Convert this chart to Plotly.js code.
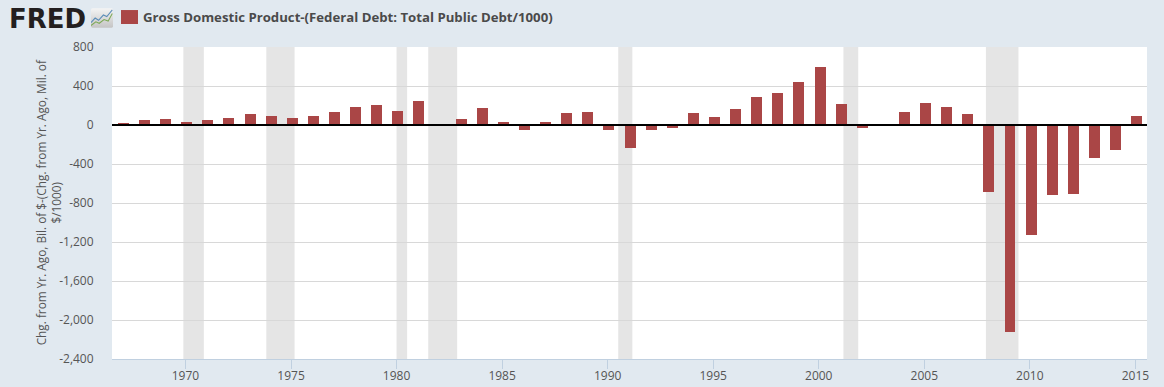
<!DOCTYPE html>
<html>
<head>
<meta charset="utf-8">
<script src="https://cdn.plot.ly/plotly-3.0.1.min.js"></script>
<style>html,body{margin:0;padding:0;background:#e1e9f0;overflow:hidden}</style>
</head>
<body>
<div id="chart" style="width:1164px;height:387px"></div>
<script>
const seriesName = "Gross Domestic Product-(Federal Debt: Total Public Debt/1000)";
const yTitle = "Chg. from Yr. Ago, Bil. of $-(Chg. from Yr. Ago, Mil. of<br>$/1000)";
const years = [1967,1968,1969,1970,1971,1972,1973,1974,1975,1976,1977,1978,1979,1980,1981,1982,1983,1984,1985,1986,1987,1988,1989,1990,1991,1992,1993,1994,1995,1996,1997,1998,1999,2000,2001,2002,2003,2004,2005,2006,2007,2008,2009,2010,2011,2012,2013,2014,2015];
const values = [20,52,62,31,52,72,114,93,72,93,134,186,207,145,248,0,62,176,31,-52,31,124,134,-52,-238,-52,-31,124,83,166,290,331,445,600,217,-31,0,134,228,186,114,-690,-2120,-1128,-718,-708,-341,-259,93];
const recessionStart = [1969.9,1973.83,1980.0,1981.5,1990.5,2001.17,2007.92];
const recessionEnd = [1970.87,1975.17,1980.5,1982.87,1991.17,2001.87,2009.46];
const yTicks = [800,400,0,-400,-800,-1200,-1600,-2000,-2400];
const xTicks = [1970,1975,1980,1985,1990,1995,2000,2005,2010,2015];

const font = '"Open Sans", sans-serif';
const iconSvg = '<svg xmlns="http://www.w3.org/2000/svg" width="32" height="32" viewBox="0 0 32 32">' +
  '<defs><linearGradient id="g" x1="0" y1="0" x2="0" y2="1"><stop offset="0" stop-color="#f4f4f4"/><stop offset="1" stop-color="#c4c4c4"/></linearGradient></defs>' +
  '<rect x="0" y="3" width="32" height="26" rx="2" fill="url(#g)"/>' +
  '<polyline points="0,22 6,16 11,19 18,12 23,14 31,5" fill="none" stroke="#5b8db8" stroke-width="1.5"/>' +
  '<polyline points="0,26 7,21 12,23 19,18 25,20 31,10" fill="none" stroke="#7da957" stroke-width="1.5"/></svg>';

const shapes = recessionStart.map((s, i) => ({
  type: 'rect', xref: 'x', yref: 'paper', x0: s, x1: recessionEnd[i], y0: 0, y1: 1,
  fillcolor: 'rgba(190,190,190,0.4)', line: {width: 0}, layer: 'below'
}));
shapes.push({type: 'line', xref: 'paper', yref: 'y', x0: 0, x1: 1, y0: 0, y1: 0,
  line: {color: '#000', width: 2}, layer: 'above'});
shapes.push({type: 'rect', xref: 'paper', yref: 'paper',
  x0: (121 - 112) / 1035, x1: (138 - 112) / 1035,
  y0: (359.3 - 24) / 312.3, y1: (359.3 - 10) / 312.3,
  fillcolor: '#aa4646', line: {width: 0}});

Plotly.newPlot('chart', [{
  type: 'bar', x: years, y: values, name: seriesName, width: 0.52, offset: -0.2,
  marker: {color: '#aa4646', line: {width: 0}},
  hovertemplate: '%{x}: %{y:,.0f}<extra></extra>'
}], {
  width: 1164, height: 387,
  margin: {l: 112, r: 17, t: 47, b: 27.7, pad: 0},
  paper_bgcolor: '#e1e9f0', plot_bgcolor: '#ffffff',
  showlegend: false, bargap: 0,
  font: {family: font, size: 12, color: '#555'},
  xaxis: {
    type: 'linear', range: [1966.52, 2015.55], tickvals: xTicks, ticktext: xTicks.map(String),
    ticks: 'outside', ticklen: 9, tickwidth: 1, tickcolor: '#c0d0e0', ticklabelstandoff: -3,
    showline: true, linecolor: '#c0d0e0', linewidth: 1, showgrid: false, zeroline: false,
    tickfont: {family: font, size: 12, color: '#555'}
  },
  yaxis: {
    range: [-2400, 800], tickvals: yTicks, ticktext: yTicks.map(v => v.toLocaleString('en-US')),
    ticks: 'outside', ticklen: 15, tickcolor: 'rgba(0,0,0,0)',
    gridcolor: '#d8d8d8', gridwidth: 1, zeroline: false, showline: false,
    tickfont: {family: font, size: 12, color: '#555'}
  },
  shapes: shapes,
  images: [{
    source: 'data:image/svg+xml;utf8,' + encodeURIComponent(iconSvg),
    xref: 'paper', yref: 'paper', xanchor: 'left', yanchor: 'top', sizing: 'stretch',
    x: (91 - 112) / 1035, y: (359.3 - 6) / 312.3, sizex: 22 / 1035, sizey: 24 / 312.3
  }],
  annotations: [{
    text: '<b>FRED</b>', xref: 'paper', yref: 'paper', showarrow: false,
    xanchor: 'left', yanchor: 'middle', x: (8 - 112) / 1035, y: (359.3 - 18.5) / 312.3,
    font: {family: '"DejaVu Sans", sans-serif', size: 26, color: '#231f20'}, borderpad: 0
  }, {
    text: '<b>' + seriesName + '</b>', xref: 'paper', yref: 'paper', showarrow: false,
    xanchor: 'left', yanchor: 'middle', x: (142 - 112) / 1035, y: (359.3 - 17) / 312.3,
    font: {family: font, size: 13.2, color: '#4a4a4a'}, borderpad: 0
  }, {
    text: yTitle, xref: 'paper', yref: 'paper', showarrow: false, textangle: -90,
    xanchor: 'center', yanchor: 'middle', x: (48.5 - 112) / 1035, y: (359.3 - 203) / 312.3,
    font: {family: font, size: 11.8, color: '#555'}, borderpad: 0
  }]
}, {displayModeBar: false, responsive: false});
</script>
</body>
</html>
